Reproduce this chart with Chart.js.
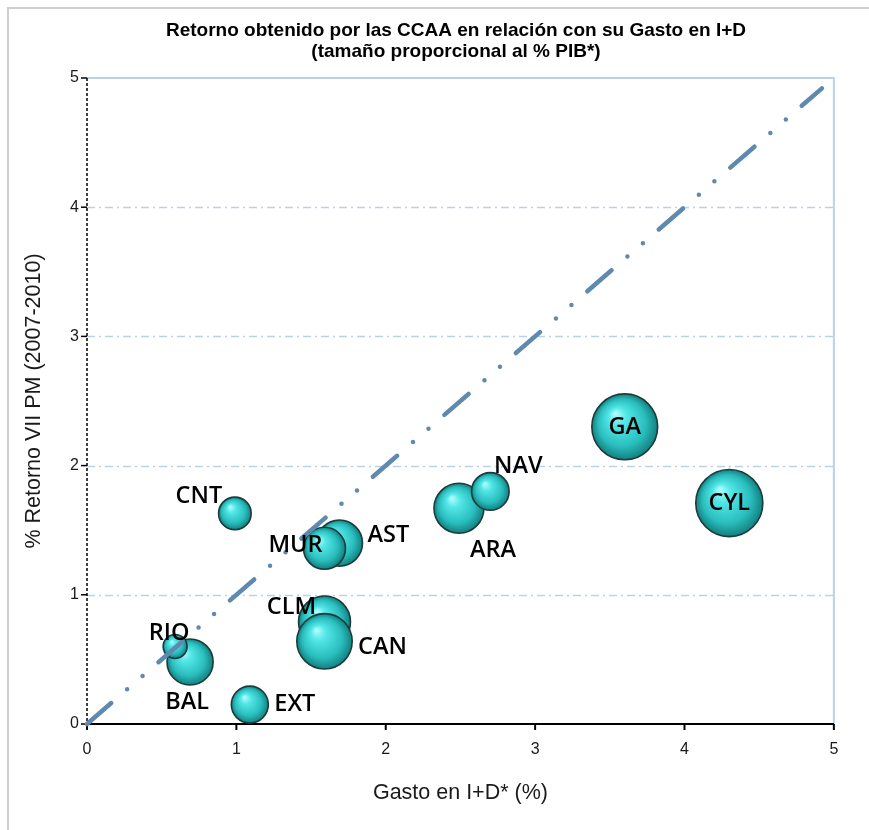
<!DOCTYPE html>
<html>
<head>
<meta charset="utf-8">
<script src="https://cdn.jsdelivr.net/npm/chart.js@4.4.1/dist/chart.umd.min.js"></script>
<style>
  html, body { margin: 0; padding: 0; background: #ffffff; }
  #wrap { width: 869px; height: 830px; position: relative; }
</style>
</head>
<body>
<div id="wrap"><canvas id="c" width="869" height="830"></canvas></div>
<script>
// ---- data ----
const titleLines = ['Retorno obtenido por las CCAA en relación con su Gasto en I+D', '(tamaño proporcional al % PIB*)'];
const xTitle = 'Gasto en I+D* (%)';
const yTitle = '% Retorno VII PM (2007-2010)';
const tickValues = [0, 1, 2, 3, 4, 5];

const regions = ['CNT', 'AST', 'MUR', 'ARA', 'NAV', 'GA', 'CYL', 'CLM', 'CAN', 'BAL', 'RIO', 'EXT'];
const gasto   = [0.99, 1.69, 1.59, 2.49, 2.70, 3.60, 4.30, 1.59, 1.59, 0.69, 0.59, 1.09];
const retorno = [1.63, 1.40, 1.36, 1.67, 1.80, 2.30, 1.71, 0.79, 0.64, 0.48, 0.60, 0.15];
const pib     = [1.30, 2.60, 2.15, 3.05, 1.73, 5.30, 5.50, 3.30, 3.75, 2.60, 0.70, 1.67];

const diagonalX = [0, 4.92];
const diagonalY = [0, 4.92];

// ---- styling / layout (not data) ----
const RADIUS_K = 14.3;
const labelOffsets = {
  CNT: [-36, -17], AST: [49, -8], MUR: [-29, -3], ARA: [34, 42], NAV: [28, -25],
  GA: [0, 0], CYL: [0, 0], CLM: [-33, -15], CAN: [58, 6], BAL: [-3, 40], RIO: [-6, -13], EXT: [45, 0]
};

const bubbleData = regions.map((r, i) => ({ x: gasto[i], y: retorno[i], r: RADIUS_K * Math.sqrt(pib[i]), label: r }));
const lineData = diagonalX.map((v, i) => ({ x: v, y: diagonalY[i] }));

function sphereFill(context) {
  const chart = context.chart;
  if (context.type !== 'data' || !chart.scales.x) return '#33cccc';
  const raw = context.raw;
  const cx = chart.scales.x.getPixelForValue(raw.x);
  const cy = chart.scales.y.getPixelForValue(raw.y);
  const r = raw.r;
  if (!isFinite(cx) || !isFinite(cy)) return '#33cccc';
  const g = chart.ctx.createRadialGradient(cx - 0.3 * r, cy - 0.42 * r, 0, cx, cy, r);
  g.addColorStop(0, '#b8ffff');
  g.addColorStop(0.28, '#52e6e6');
  g.addColorStop(0.72, '#29bdbd');
  g.addColorStop(1, '#147f7f');
  return g;
}

const framePlugin = {
  id: 'frame',
  beforeDraw(chart) {
    const ctx = chart.ctx;
    ctx.save();
    ctx.fillStyle = '#ffffff';
    ctx.fillRect(0, 0, chart.width, chart.height);
    ctx.strokeStyle = '#cfcfcf';
    ctx.lineWidth = 2;
    ctx.beginPath();
    ctx.moveTo(8, chart.height + 2);
    ctx.lineTo(8, 8);
    ctx.lineTo(chart.width + 2, 8);
    ctx.stroke();
    // title
    ctx.fillStyle = '#000';
    ctx.font = 'bold 19px "Liberation Sans", Arial, sans-serif';
    ctx.textAlign = 'center';
    ctx.textBaseline = 'middle';
    ctx.fillText(titleLines[0], 456, 31);
    ctx.fillText(titleLines[1], 456, 52);
    ctx.restore();
  },
  beforeDatasetsDraw(chart) {
    const { ctx, chartArea: { left, right, top, bottom }, scales: { x, y } } = chart;
    ctx.save();
    // dash-dot horizontal gridlines
    ctx.strokeStyle = '#b9d1ea';
    ctx.lineWidth = 1.5;
    ctx.setLineDash([8, 4, 2, 4]);
    tickValues.forEach(v => {
      if (v > y.min && v < y.max) {
        const py = Math.round(y.getPixelForValue(v)) + 0.5;
        ctx.beginPath(); ctx.moveTo(left, py); ctx.lineTo(right, py); ctx.stroke();
      }
    });
    ctx.setLineDash([]);
    ctx.lineWidth = 2;
    ctx.beginPath();
    ctx.moveTo(left, top); ctx.lineTo(right, top); ctx.lineTo(right, bottom);
    ctx.stroke();
    // left axis dotted
    ctx.strokeStyle = '#000';
    ctx.lineWidth = 1.5;
    ctx.setLineDash([3, 2]);
    ctx.beginPath(); ctx.moveTo(left, top); ctx.lineTo(left, bottom); ctx.stroke();
    ctx.setLineDash([]);
    tickValues.forEach(v => {
      const py = y.getPixelForValue(v);
      ctx.beginPath(); ctx.moveTo(left - 6, py); ctx.lineTo(left, py); ctx.stroke();
    });
    // bottom axis
    ctx.lineWidth = 2;
    ctx.beginPath(); ctx.moveTo(left, bottom); ctx.lineTo(right, bottom); ctx.stroke();
    tickValues.forEach(v => {
      const px = x.getPixelForValue(v);
      ctx.beginPath(); ctx.moveTo(px, bottom); ctx.lineTo(px, bottom + 6); ctx.stroke();
    });
    ctx.restore();
  },
  afterDatasetsDraw(chart) {
    const ctx = chart.ctx;
    const meta = chart.getDatasetMeta(1);
    ctx.save();
    ctx.fillStyle = '#000';
    ctx.font = '600 23.5px "Open Sans", "Liberation Sans", sans-serif';
    ctx.textAlign = 'center';
    ctx.textBaseline = 'middle';
    meta.data.forEach((el, i) => {
      const name = regions[i];
      const off = labelOffsets[name] || [0, 0];
      ctx.fillText(name, el.x + off[0], el.y + off[1]);
    });
    ctx.restore();
  }
};

const tickFont = { family: '"Liberation Sans", Arial, sans-serif', size: 16 };
const titleFont = { family: '"Liberation Sans", Arial, sans-serif', size: 21.5 };

new Chart(document.getElementById('c'), {
  type: 'bubble',
  data: {
    datasets: [
      {
        type: 'line',
        data: lineData,
        borderColor: '#6089b0',
        borderWidth: 4.5,
        borderCapStyle: 'round',
        borderDash: [32, 21, 0, 20.5, 0, 21],
        pointRadius: 0,
        fill: false,
        clip: false,
        order: 0
      },
      {
        type: 'bubble',
        data: bubbleData,
        backgroundColor: sphereFill,
        borderColor: '#1c3c3c',
        borderWidth: 1.6,
        hoverRadius: 0,
        clip: false,
        order: 1
      }
    ]
  },
  options: {
    responsive: false,
    animation: false,
    layout: { padding: { top: 78, right: 33, bottom: 0, left: 0 } },
    plugins: { legend: { display: false }, tooltip: { enabled: false }, title: { display: false } },
    scales: {
      x: {
        type: 'linear', min: 0, max: 5,
        afterBuildTicks: s => { s.ticks = tickValues.map(v => ({ value: v })); },
        afterFit: s => { s.height = 106; },
        ticks: { font: tickFont, color: '#1a1a1a', padding: 8 },
        grid: { color: 'rgba(0,0,0,0)', tickLength: 8 },
        border: { display: false },
        title: { display: true, text: xTitle, font: titleFont, color: '#1a1a1a', padding: { top: 4, bottom: 24 } }
      },
      y: {
        type: 'linear', min: 0, max: 5,
        afterBuildTicks: s => { s.ticks = tickValues.map(v => ({ value: v })); },
        afterFit: s => { s.width = 87; },
        ticks: { font: tickFont, color: '#1a1a1a', padding: 0 },
        grid: { color: 'rgba(0,0,0,0)', tickLength: 8 },
        border: { display: false },
        title: { display: true, text: yTitle, font: titleFont, color: '#1a1a1a', padding: { top: 21, bottom: 0 } }
      }
    }
  },
  plugins: [framePlugin]
});
</script>
</body>
</html>
